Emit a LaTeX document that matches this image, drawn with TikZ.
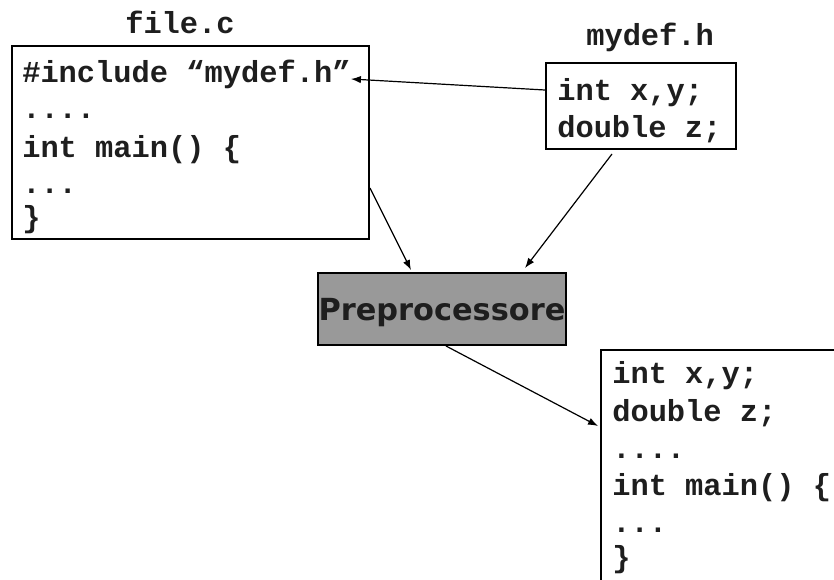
\documentclass[tikz,border=0pt]{standalone}
\usepackage{fontspec}
\usetikzlibrary{arrows.meta,calc}
\newfontfamily\codefont{Liberation Mono}
\newfontfamily\prepfont{DejaVu Sans}
\definecolor{ink}{HTML}{1E1E1E}
\definecolor{prepgray}{HTML}{999999}
\begin{document}
\begin{tikzpicture}[x=0.75pt,y=-0.75pt,
  code/.style={anchor=base west,inner sep=0pt,text=ink,font=\codefont\bfseries\fontsize{22.8pt}{27pt}\selectfont},
  box/.style={draw=black,line width=1.5pt,anchor=north west,inner sep=0pt},
  conn/.style={draw=black,line width=0.9pt,-{Latex[length=7.5pt,width=5.5pt]}}]
\useasboundingbox (0,0) rectangle (834,579);
\clip (0,0) rectangle (834,579);

% labels
\node[code] (lfile) at (125,33) {file.c};
\node[code] (lmydef) at (586,45) {mydef.h};

% boxes
\node[box,minimum width=267.75pt,minimum height=144.75pt] (filec) at (11,45) {};
\node[box,minimum width=142.5pt,minimum height=64.5pt] (mydef) at (545,62) {};
\node[box,fill=prepgray,minimum width=186pt,minimum height=54pt,text=ink,text depth=0pt,
  font=\prepfont\bfseries\fontsize{22.8pt}{27pt}\selectfont] (prep) at (317,272) {Preprocessore};
\node[box,minimum width=225pt,minimum height=225pt] (out) at (600,349) {};

% file.c text
\node[code] (fc1) at (22,82) {\#include “mydef.h”};
\node[code] (fc2) at (22,118) {....};
\node[code] (fc3) at (22,157) {int main() \{};
\node[code] (fc4) at (22,193) {...};
\node[code] (fc5) at (22,227) {\}};

% mydef.h text
\node[code] (md1) at (557,100) {int x,y;};
\node[code] (md2) at (557,137) {double z;};

% output text
\node[code] (o1) at (612,383) {int x,y;};
\node[code] (o2) at (612,421) {double z;};
\node[code] (o3) at (612,458) {....};
\node[code] (o4) at (612,495) {int main() \{};
\node[code] (o5) at (612,532) {...};
\node[code] (o6) at (612,567) {\}};

% connectors
\draw[conn] ($(mydef.north west)+(0,28)$) -- ($(fc1.base east)+(0,-3)$);
\draw[conn] ($(filec.north east)+(0,143)$) -- ($(prep.north west)+(94,-2)$);
\draw[conn] ($(mydef.south west)+(67,4)$) -- ($(prep.north west)+(208,-4)$);
\draw[conn] ($(prep.south west)+(129,0)$) -- ($(out.north west)+(-2,77)$);
\end{tikzpicture}
\end{document}
